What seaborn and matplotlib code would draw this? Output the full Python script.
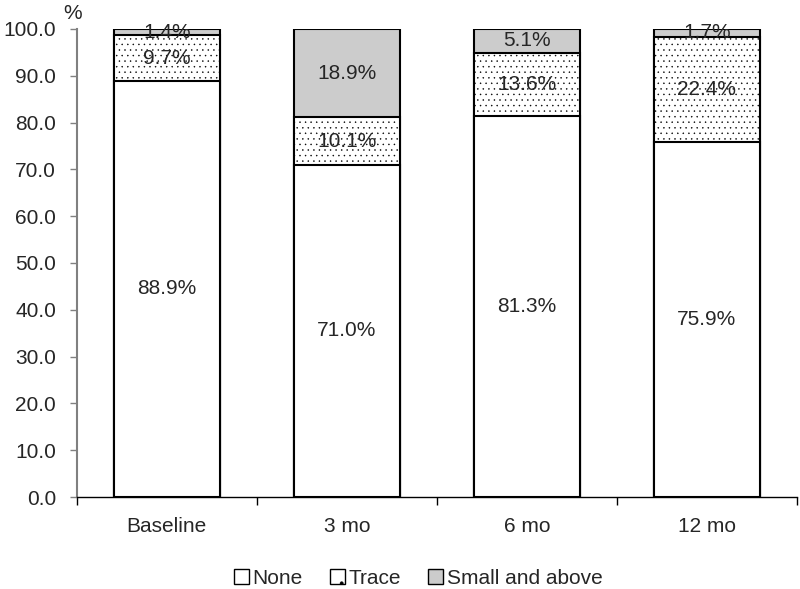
import matplotlib
matplotlib.use("Agg")
import matplotlib.pyplot as plt
import seaborn as sns
import pandas as pd
import numpy as np
from matplotlib.patches import Patch

# data
visits = ["Baseline", "3 mo", "6 mo", "12 mo"]
none_pct = [88.9, 71.0, 81.3, 75.9]
trace_pct = [9.7, 10.1, 13.6, 22.4]
small_pct = [1.4, 18.9, 5.1, 1.7]
yticks = [0, 10, 20, 30, 40, 50, 60, 70, 80, 90, 100]

sns.set_style("white")
plt.rcParams["font.family"] = ["Liberation Sans", "DejaVu Sans"]
plt.rcParams["hatch.color"] = "#9a9a9a"
plt.rcParams["hatch.linewidth"] = 0.3

FS = 15

df = pd.DataFrame({"Visit": visits, "None": none_pct, "Trace": trace_pct, "Small": small_pct})
df["NoneTrace"] = df["None"] + df["Trace"]
df["Total"] = df["NoneTrace"] + df["Small"]

fig = plt.figure(figsize=(8, 5.89), dpi=100)
ax = fig.add_axes([0.096, 0.156, 0.9, 0.795])

w = 0.59
# draw cumulative layers from the top down
sns.barplot(data=df, x="Visit", y="Total", color="#cccccc", edgecolor="black",
            linewidth=1.5, width=w, ax=ax, saturation=1)
sns.barplot(data=df, x="Visit", y="NoneTrace", color="white", edgecolor="black",
            linewidth=1.5, width=w, ax=ax, saturation=1, hatch="...")
sns.barplot(data=df, x="Visit", y="None", color="white", edgecolor="black",
            linewidth=1.5, width=w, ax=ax, saturation=1)

# segment labels
for i in range(len(visits)):
    n, t, s = none_pct[i], trace_pct[i], small_pct[i]
    ax.text(i, n / 2, f"{n:.1f}%", ha="center", va="center", fontsize=FS)
    ax.text(i, n + t / 2, f"{t:.1f}%", ha="center", va="center", fontsize=FS)
    ax.text(i, n + t + s / 2, f"{s:.1f}%", ha="center", va="center", fontsize=FS)

ax.set_xlim(-0.5, 3.5)
ax.set_ylim(0, 100)
ax.set_yticks(yticks)
ax.set_yticklabels([f"{v:.1f}" for v in yticks], fontsize=FS)
ax.set_xticks(np.arange(len(visits)))
ax.set_xticklabels(visits, fontsize=FS)
ax.set_xticks(np.arange(-0.5, len(visits)), minor=True)
ax.tick_params(axis="x", which="major", length=0, pad=14)
ax.tick_params(axis="x", which="minor", length=6, width=1, color="black", direction="out", bottom=True)
ax.tick_params(axis="y", length=5, width=1, color="#808080", direction="out", left=True, pad=10)
ax.set_xlabel("")
ax.set_ylabel("")

for side in ["top", "right"]:
    ax.spines[side].set_visible(False)
ax.spines["left"].set_color("#808080")
ax.spines["left"].set_linewidth(1.5)
ax.spines["bottom"].set_color("black")
ax.spines["bottom"].set_linewidth(1.0)

fig.text(0.079, 0.977, "%", fontsize=FS, ha="left", va="center")

handles = [
    Patch(facecolor="white", edgecolor="black", label="None"),
    Patch(facecolor="white", edgecolor="black", hatch=".", label="Trace"),
    Patch(facecolor="#cccccc", edgecolor="black", label="Small and above"),
]
fig.legend(handles=handles, loc="center", bbox_to_anchor=(0.523, 0.018), ncol=3,
           frameon=False, fontsize=FS, handlelength=0.7, handleheight=0.7,
           handletextpad=0.2, columnspacing=1.3)

fig.savefig("out.png", dpi=100)
